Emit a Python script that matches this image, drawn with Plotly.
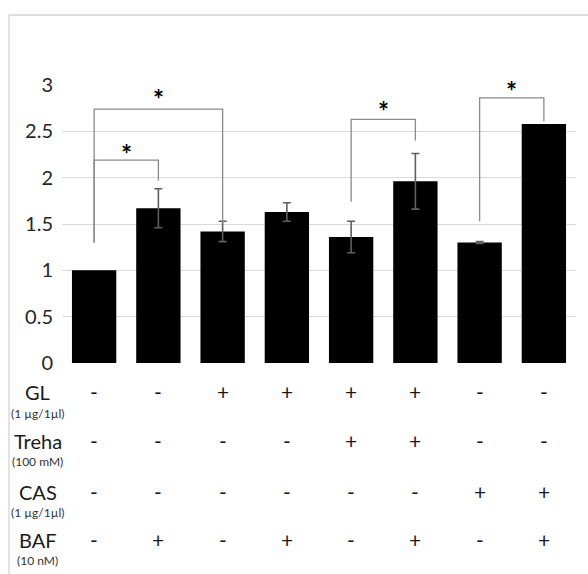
import plotly.graph_objects as go

# ---- data ----
groups = list(range(8))
values = [1.00, 1.67, 1.42, 1.63, 1.36, 1.96, 1.30, 2.58]
errors = [None, 0.21, 0.11, 0.10, 0.17, 0.30, 0.01, None]

# treatment matrix shown under the bars
row_names = ["GL", "Treha", "CAS", "BAF"]
row_units = ["(1 \u00b5g/1\u00b5l)", "(100 mM)", "(1 \u00b5g/1\u00b5l)", "(10 nM)"]
gl =    ["-", "-", "+", "+", "+", "+", "-", "-"]
treha = ["-", "-", "-", "-", "+", "+", "-", "-"]
cas =   ["-", "-", "-", "-", "-", "-", "+", "+"]
baf =   ["-", "+", "-", "+", "-", "+", "-", "+"]
table_rows = [gl, treha, cas, baf]

# significance brackets: (left bar, right bar, left foot, top, right foot)
brackets = [
    (0, 1, 1.30, 2.19, 1.97),
    (0, 2, 1.30, 2.74, 1.51),
    (4, 5, 1.74, 2.63, 2.40),
    (6, 7, 1.53, 2.86, 2.61),
]
star_y = [2.31, 2.90, 2.77, 2.99]

y_ticks = [0, 0.5, 1, 1.5, 2, 2.5, 3]

# ---- layout geometry (pixels) ----
W, H = 588, 574
ML, MR, MT, MB = 62, 12, 85, 211
PW, PH = W - ML - MR, H - MT - MB


def px_x(px):
    return (px - ML) / PW


def px_y(py):
    return (H - MB - py) / PH


FONT = "Lato, 'Open Sans', sans-serif"

fig = go.Figure()

fig.add_trace(go.Bar(
    x=groups, y=values,
    marker=dict(color="black", line=dict(width=0)),
    width=0.69,
    showlegend=False, hoverinfo="skip",
))

# error bars only where a spread was measured
err_idx = [i for i, e in enumerate(errors) if e is not None]
fig.add_trace(go.Scatter(
    x=[groups[i] for i in err_idx], y=[values[i] for i in err_idx],
    mode="markers", marker=dict(size=0.1, color="rgba(0,0,0,0)"),
    error_y=dict(type="data", array=[errors[i] for i in err_idx], visible=True,
                 color="#5f5f5f", thickness=1.6, width=4),
    showlegend=False, hoverinfo="skip",
))

for (a, b, yl, yt, yr) in brackets:
    fig.add_trace(go.Scatter(
        x=[a, a, b, b], y=[yl, yt, yt, yr], mode="lines",
        line=dict(color="#8a8a8a", width=1.3),
        showlegend=False, hoverinfo="skip", cliponaxis=False,
    ))

for (a, b, *_), sy in zip(brackets, star_y):
    fig.add_annotation(
        x=(a + b) / 2, y=sy, xref="x", yref="y",
        text="<b>*</b>", showarrow=False, yanchor="middle", yshift=-5,
        font=dict(family=FONT, size=26, color="black"),
    )

# treatment table under the chart, one column per bar
label_y = [391.5, 440.5, 491.5, 539.5]
unit_y = [413, 461, 512, 560]
for r, (name, unit) in enumerate(zip(row_names, row_units)):
    fig.add_annotation(
        x=px_x(37.5), y=px_y(label_y[r]), xref="paper", yref="paper",
        text=name, showarrow=False, xanchor="center", yanchor="middle",
        font=dict(family=FONT, size=20, color="#1a1a1a"),
    )
    fig.add_annotation(
        x=px_x(37.5), y=px_y(unit_y[r]), xref="paper", yref="paper",
        text=unit, showarrow=False, xanchor="center", yanchor="middle",
        font=dict(family=FONT, size=12, color="#333333"),
    )
    for c, sign in enumerate(table_rows[r]):
        fig.add_annotation(
            x=groups[c], y=px_y(label_y[r]), xref="x", yref="paper",
            text=sign, showarrow=False, xanchor="center", yanchor="middle",
            font=dict(family=FONT, size=21, color="#1a1a1a"),
        )

# light outer frame
frame = dict(type="line", xref="paper", yref="paper",
             line=dict(color="#d4d4d4", width=1.3))
fig.add_shape(**frame, x0=px_x(9), y0=px_y(15), x1=px_x(W + 5), y1=px_y(15))
fig.add_shape(**frame, x0=px_x(9), y0=px_y(15), x1=px_x(9), y1=px_y(H + 5))

fig.update_layout(
    width=W, height=H,
    margin=dict(l=ML, r=MR, t=MT, b=MB),
    paper_bgcolor="white", plot_bgcolor="white",
    bargap=0.31,
    xaxis=dict(range=[-0.5, 7.5], showticklabels=False, showgrid=False,
               zeroline=False, showline=False, ticks=""),
    yaxis=dict(range=[0, 3], tickvals=y_ticks,
               ticktext=["0", "0.5", "1", "1.5", "2", "2.5", "3"],
               showgrid=True, gridcolor="#d9d9d9", gridwidth=1.3,
               zeroline=False, showline=False, ticks="",
               ticklabelstandoff=8,
               tickfont=dict(family=FONT, size=20, color="#262626")),
)

fig.write_html("out.html")
